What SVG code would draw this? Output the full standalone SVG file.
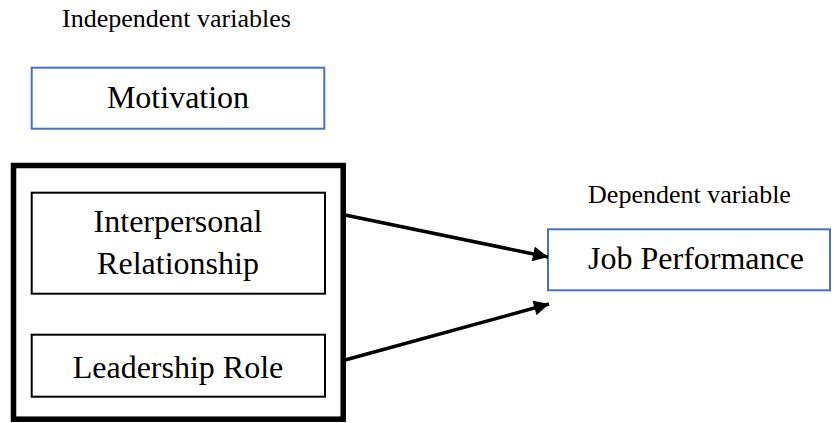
<svg xmlns="http://www.w3.org/2000/svg" width="834" height="423" viewBox="0 0 834 423">
<defs>
<style>
text{fill:#000;text-anchor:middle}
.lbl{font-size:26px}
.big{font-size:32px}
.blue{fill:#fff;stroke:#4472C4;stroke-width:2}
.blk{fill:#fff;stroke:#000;stroke-width:2}
.con{stroke:#000;stroke-width:3.5;fill:none}
</style>
<marker id="ah" viewBox="0 0 10 10" refX="10" refY="5" markerUnits="userSpaceOnUse" markerWidth="17" markerHeight="15" orient="auto">
<path d="M0,0 L10,5 L0,10 Z" fill="#000"/>
</marker>
</defs>
<rect width="834" height="423" fill="#fff"/>
<g font-family="Liberation Serif, DejaVu Serif, serif">
<text class="lbl" x="176.5" y="27">Independent variables</text>
<text class="lbl" x="689.5" y="203">Dependent variable</text>
<g id="group-independent">
<rect x="13.5" y="165.5" width="329.7" height="253.7" fill="#fff" stroke="#000" stroke-width="5.5"/>
</g>
<g id="motivation">
<rect class="blue" x="31.7" y="67.7" width="292.6" height="61"/>
<text class="big" x="178" y="108">Motivation</text>
</g>
<g id="interpersonal">
<rect class="blk" x="31.7" y="192.7" width="293.3" height="101"/>
<text class="big" x="178" y="232">Interpersonal</text>
<text class="big" x="178" y="274">Relationship</text>
</g>
<g id="leadership">
<rect class="blk" x="31.7" y="334.7" width="293.3" height="62"/>
<text class="big" x="178" y="377.5">Leadership Role</text>
</g>
<g id="job-performance">
<rect class="blue" x="548" y="229.3" width="282" height="61"/>
<text class="big" x="696" y="269">Job Performance</text>
</g>
</g>
<g id="connectors">
<line class="con" x1="345" y1="215" x2="548" y2="257" marker-end="url(#ah)"/>
<line class="con" x1="345" y1="360" x2="549" y2="304" marker-end="url(#ah)"/>
</g>
</svg>
